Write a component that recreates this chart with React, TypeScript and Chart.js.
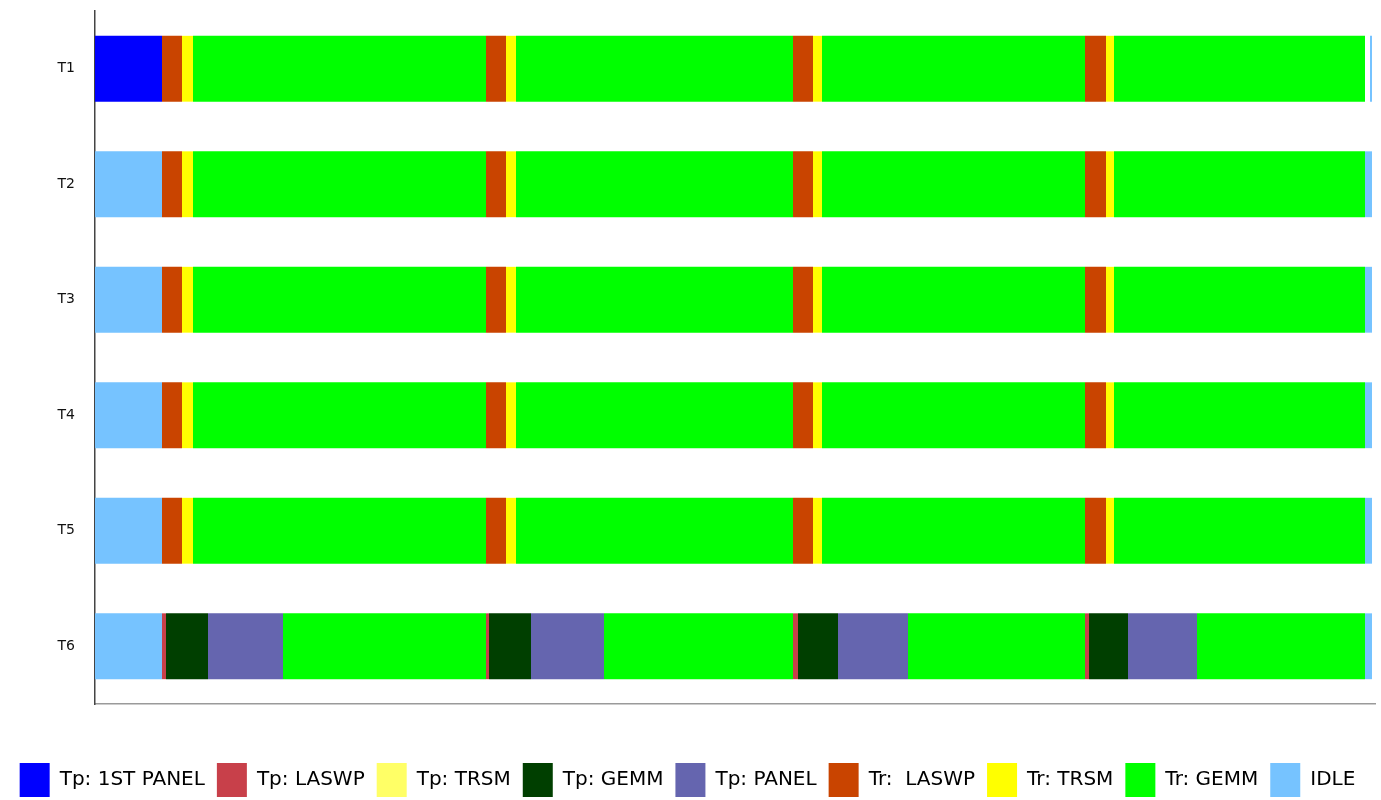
import React, { useEffect, useRef } from 'react';
import { Chart, registerables } from 'chart.js';

Chart.register(...registerables);

const threads = ['T1', 'T2', 'T3', 'T4', 'T5', 'T6'];

const seriesNames = [
  'Tp: 1ST PANEL',
  'Tp: LASWP',
  'Tp: TRSM',
  'Tp: GEMM',
  'Tp: PANEL',
  'Tr:  LASWP',
  'Tr: TRSM',
  'Tr: GEMM',
  'IDLE',
];

const seriesColors = [
  '#0000FF',
  '#C8404A',
  '#FFFF66',
  '#003F00',
  '#6565AF',
  '#C94400',
  '#FFFF00',
  '#00FF00',
  '#76C3FF',
];

// segments: [seriesIndex, start, end] (time units)
const t1Segments: number[][] = [
  [0, 0, 67], [5, 67, 87], [6, 87, 98], [7, 98, 391],
  [5, 391, 411], [6, 411, 421], [7, 421, 698],
  [5, 698, 718], [6, 718, 727], [7, 727, 990],
  [5, 990, 1011], [6, 1011, 1019], [7, 1019, 1270],
  [8, 1275, 1277],
];
const t2Segments: number[][] = [
  [8, 0, 67], [5, 67, 87], [6, 87, 98], [7, 98, 391],
  [5, 391, 411], [6, 411, 421], [7, 421, 698],
  [5, 698, 718], [6, 718, 727], [7, 727, 990],
  [5, 990, 1011], [6, 1011, 1019], [7, 1019, 1270],
  [8, 1270, 1277],
];
const t3Segments: number[][] = [
  [8, 0, 67], [5, 67, 87], [6, 87, 98], [7, 98, 391],
  [5, 391, 411], [6, 411, 421], [7, 421, 698],
  [5, 698, 718], [6, 718, 727], [7, 727, 990],
  [5, 990, 1011], [6, 1011, 1019], [7, 1019, 1270],
  [8, 1270, 1277],
];
const t4Segments: number[][] = [
  [8, 0, 67], [5, 67, 87], [6, 87, 98], [7, 98, 391],
  [5, 391, 411], [6, 411, 421], [7, 421, 698],
  [5, 698, 718], [6, 718, 727], [7, 727, 990],
  [5, 990, 1011], [6, 1011, 1019], [7, 1019, 1270],
  [8, 1270, 1277],
];
const t5Segments: number[][] = [
  [8, 0, 67], [5, 67, 87], [6, 87, 98], [7, 98, 391],
  [5, 391, 411], [6, 411, 421], [7, 421, 698],
  [5, 698, 718], [6, 718, 727], [7, 727, 990],
  [5, 990, 1011], [6, 1011, 1019], [7, 1019, 1270],
  [8, 1270, 1277],
];
const t6Segments: number[][] = [
  [8, 0, 67], [1, 67, 71], [3, 71, 113], [4, 113, 188], [7, 188, 391],
  [1, 391, 394], [3, 394, 436], [4, 436, 509], [7, 509, 698],
  [1, 698, 703], [3, 703, 743], [4, 743, 813], [7, 813, 990],
  [1, 990, 994], [3, 994, 1033], [4, 1033, 1102], [7, 1102, 1270],
  [8, 1270, 1277],
];

const rows = [t1Segments, t2Segments, t3Segments, t4Segments, t5Segments, t6Segments];

const timeMin = 0;
const timeMax = 1280;

export default function App() {
  const canvasRef = useRef<HTMLCanvasElement | null>(null);

  useEffect(() => {
    document.body.style.margin = '0';
    const canvas = canvasRef.current;
    if (!canvas) return;

    const datasets: any[] = [];
    rows.forEach((segs, r) => {
      segs.forEach(([s, a, b]) => {
        datasets.push({
          label: seriesNames[s],
          data: threads.map((_, i) => (i === r ? [a, b] : null)),
          backgroundColor: seriesColors[s],
          borderWidth: 0,
          borderSkipped: false,
          grouped: false,
          barPercentage: 0.57,
          categoryPercentage: 1,
        });
      });
    });

    const chart = new Chart(canvas, {
      type: 'bar',
      data: { labels: threads, datasets },
      options: {
        indexAxis: 'y',
        animation: false,
        responsive: false,
        layout: { padding: { top: 11, right: 6, bottom: -7, left: 0 } },
        scales: {
          x: {
            type: 'linear',
            min: timeMin,
            max: timeMax,
            grid: { display: false, drawTicks: false },
            border: { display: true, color: '#9a9a9a', width: 1.5 },
            ticks: { display: false },
            afterFit: (scale: any) => {
              scale.height = 47;
            },
          },
          y: {
            type: 'category',
            offset: true,
            grid: { display: false, drawTicks: false },
            border: { display: true, color: '#444444', width: 1.5 },
            ticks: {
              color: '#111111',
              padding: 20,
              font: { family: "'DejaVu Sans', sans-serif", size: 14 },
            },
            afterFit: (scale: any) => {
              scale.width = 95;
              scale.paddingTop = 0;
              scale.paddingBottom = 0;
            },
          },
        },
        plugins: {
          tooltip: { enabled: false },
          legend: {
            position: 'bottom',
            onClick: () => {},
            labels: {
              boxWidth: 30,
              boxHeight: 34,
              padding: 12,
              color: '#3a3a3a',
              font: { family: "'DejaVu Sans', sans-serif", style: 'condensed' as any, size: 20 },
              generateLabels: () =>
                seriesNames.map((n, i) => ({
                  text: n,
                  fillStyle: seriesColors[i],
                  strokeStyle: seriesColors[i],
                  lineWidth: 0,
                  hidden: false,
                  datasetIndex: 0,
                })),
            },
          },
        },
      },
    });

    return () => chart.destroy();
  }, []);

  return (
    <div style={{ width: 1381, height: 800, overflow: 'hidden' }}>
      <canvas ref={canvasRef} width={1381} height={800} style={{ display: 'block' }} />
    </div>
  );
}
